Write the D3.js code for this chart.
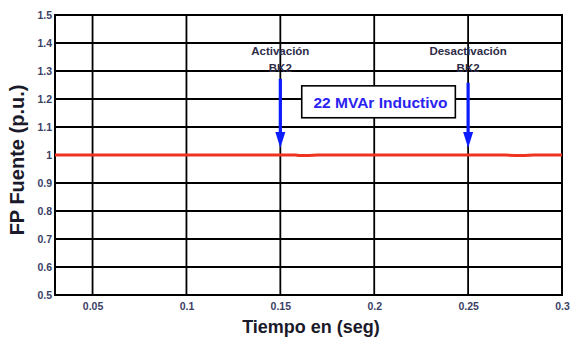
<!DOCTYPE html>
<html>
<head>
<meta charset="utf-8">
<script src="https://cdn.jsdelivr.net/npm/d3@7/dist/d3.min.js"></script>
<style>
  html, body { margin: 0; padding: 0; background: #fff; }
  svg { display: block; font-family: "Liberation Sans", Arial, sans-serif; }
</style>
</head>
<body>
<svg id="chart" width="571" height="339"></svg>
<script>
// Source power factor over time
const timeSec = [0.03, 0.10, 0.150, 0.158, 0.160, 0.165, 0.170, 0.20, 0.25, 0.270, 0.275, 0.280, 0.285, 0.30];
const fpPu    = [1.0,  1.0,  1.0,   1.0,   0.998, 0.998, 1.0,   1.0,  1.0,  1.0,   0.998, 0.998, 1.0,   1.0];

const xTicks = [0.05, 0.1, 0.15, 0.2, 0.25, 0.3];
const yTicks = [0.5, 0.6, 0.7, 0.8, 0.9, 1, 1.1, 1.2, 1.3, 1.4, 1.5];

// Switching events of BK2: time, arrow top value, label lines
const events = [
  { t: 0.15, top: 1.272, lines: ["Activación", "BK2"] },
  { t: 0.25, top: 1.258, lines: ["Desactivación", "BK2"] }
];
const arrowTip = 1.025;
const boxText = "22 MVAr Inductivo";
const boxRange = { t0: 0.1614, t1: 0.2432, v0: 1.247, v1: 1.133 };

const margin = { left: 55, right: 9, top: 15, bottom: 44 };
const W = 571, H = 339;
const svg = d3.select("#chart");

const x = d3.scaleLinear().domain([0.03, 0.3]).range([margin.left, W - margin.right]);
const y = d3.scaleLinear().domain([0.5, 1.5]).range([H - margin.bottom, margin.top]);

// grid
const g = svg.append("g");
g.selectAll("line.vg").data(xTicks).join("line")
  .attr("x1", d => x(d)).attr("x2", d => x(d))
  .attr("y1", y(0.5)).attr("y2", y(1.5))
  .attr("stroke", "#000").attr("stroke-width", 1.8);
g.selectAll("line.hg").data(yTicks).join("line")
  .attr("x1", x(0.03)).attr("x2", x(0.3))
  .attr("y1", d => y(d)).attr("y2", d => y(d))
  .attr("stroke", "#000").attr("stroke-width", 1.8);

// axes
const xAxis = d3.axisBottom(x).tickValues(xTicks).tickSize(0).tickPadding(8)
  .tickFormat(d => String(d));
const yAxis = d3.axisLeft(y).tickValues(yTicks).tickSize(0).tickPadding(3)
  .tickFormat(d => String(d));

const ax = svg.append("g").attr("transform", `translate(0,${y(0.5)})`).call(xAxis);
const ay = svg.append("g").attr("transform", `translate(${x(0.03)},0)`).call(yAxis);
[ax, ay].forEach(a => {
  a.select(".domain").remove();
  a.selectAll("text").attr("font-size", 10.5).attr("font-weight", "bold")
    .attr("fill", "#3a3f66")
    .attr("font-family", "'Liberation Sans', Arial, sans-serif");
});

// frame
svg.append("rect")
  .attr("x", x(0.03)).attr("y", y(1.5))
  .attr("width", x(0.3) - x(0.03)).attr("height", y(0.5) - y(1.5))
  .attr("fill", "none").attr("stroke", "#000").attr("stroke-width", 2);

// power factor trace
const line = d3.line().x((d, i) => x(timeSec[i])).y(d => y(d));
svg.append("path").datum(fpPu)
  .attr("d", line)
  .attr("fill", "none").attr("stroke", "#ee3320").attr("stroke-width", 3);

// event arrows and labels
events.forEach(ev => {
  const ex = x(ev.t), tipY = y(arrowTip), headLen = 16, headHalf = 5;
  svg.append("line")
    .attr("x1", ex).attr("x2", ex)
    .attr("y1", y(ev.top)).attr("y2", tipY - headLen + 2)
    .attr("stroke", "#0b1cff").attr("stroke-width", 3.2);
  svg.append("path")
    .attr("d", `M${ex - headHalf},${tipY - headLen} L${ex + headHalf},${tipY - headLen} L${ex},${tipY} Z`)
    .attr("fill", "#0b1cff");
  const t = svg.append("text")
    .attr("y", 55)
    .attr("text-anchor", "middle").attr("font-size", 11.5).attr("font-weight", "bold")
    .attr("fill", "#2e2c48");
  ev.lines.forEach((s, i) => {
    t.append("tspan").attr("x", ex).attr("dy", i === 0 ? 0 : 17).text(s);
  });
});

// annotation box
svg.append("rect")
  .attr("x", x(boxRange.t0)).attr("y", y(boxRange.v0))
  .attr("width", x(boxRange.t1) - x(boxRange.t0))
  .attr("height", y(boxRange.v1) - y(boxRange.v0))
  .attr("fill", "#fff").attr("stroke", "#000").attr("stroke-width", 1.6);
svg.append("text")
  .attr("x", (x(boxRange.t0) + x(boxRange.t1)) / 2 + 2)
  .attr("y", (y(boxRange.v0) + y(boxRange.v1)) / 2 + 6)
  .attr("text-anchor", "middle")
  .attr("font-size", 15.5).attr("font-weight", "bold").attr("fill", "#2a22f0")
  .text(boxText);

// axis titles
svg.append("text")
  .attr("x", 311).attr("y", 333)
  .attr("text-anchor", "middle").attr("font-size", 18).attr("font-weight", "bold")
  .attr("fill", "#1a1a2a").text("Tiempo en (seg)");
svg.append("text")
  .attr("transform", `translate(24,160) rotate(-90)`)
  .attr("text-anchor", "middle").attr("font-size", 20).attr("font-weight", "bold")
  .attr("fill", "#1a1a2a").text("FP Fuente (p.u.)");
</script>
</body>
</html>
